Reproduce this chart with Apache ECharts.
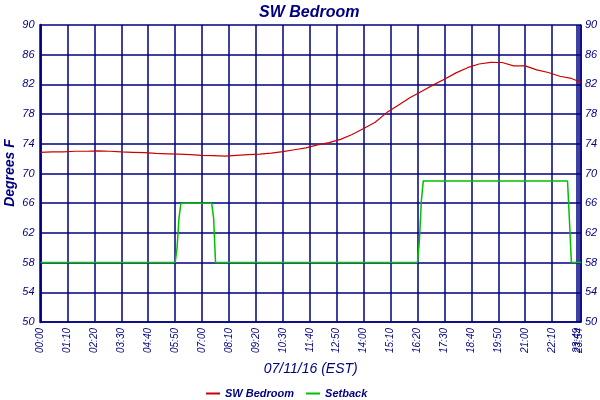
<!DOCTYPE html>
<html>
<head>
<meta charset="utf-8">
<script src="https://cdn.jsdelivr.net/npm/echarts@6/dist/echarts.min.js"></script>
<style>html,body{margin:0;padding:0;background:#fff}#c{width:600px;height:400px}</style>
</head>
<body>
<div id="c"></div>
<script>
// x categories: 5-minute samples 00:00..23:10, then the last logged samples
const regularEndMinutes = 1390, stepMinutes = 5;
const tailTimes = ['23:49', '23:54', '23:59'];
const timeCategories = [];
for (let m = 0; m <= regularEndMinutes; m += stepMinutes) {
  const h = Math.floor(m / 60), mm = m % 60;
  timeCategories.push((h < 10 ? '0' : '') + h + ':' + (mm < 10 ? '0' : '') + mm);
}
tailTimes.forEach(t => timeCategories.push(t));

// SW Bedroom temperature (read every 30 min)
const bedroomTimes = ['00:00','00:30','01:00','01:30','02:00','02:30','03:00','03:30','04:00','04:30',
  '05:00','05:30','06:00','06:30','07:00','07:30','08:00','08:30','09:00','09:30',
  '10:00','10:30','11:00','11:30','12:00','12:30','13:00','13:30','14:00','14:30',
  '15:00','15:30','16:00','16:30','17:00','17:30','18:00','18:30','19:00','19:30',
  '20:00','20:30','21:00','21:30','22:00','22:30','23:00','23:10','23:59'];
const bedroomValues = [72.85,72.9,72.9,73.0,73.0,73.05,73.0,72.9,72.85,72.8,
  72.7,72.65,72.6,72.55,72.45,72.4,72.35,72.45,72.55,72.6,
  72.75,72.95,73.2,73.45,73.85,74.15,74.6,75.25,76.05,76.9,
  78.2,79.2,80.2,81.05,81.9,82.7,83.55,84.25,84.75,84.97,
  84.95,84.5,84.5,83.95,83.6,83.1,82.8,82.6,82.3];

// Setback breakpoints
const setbackTimes = ['00:00','05:50','05:55','06:00','06:05','07:25','07:30','07:35',
  '16:20','16:25','16:30','16:35','22:50','22:55','23:00','23:59'];
const setbackValues = [58,58,60,64,66,66,64,58,
  58,61,66.3,69,69,63.6,58,58];

const yTicks = {min: 50, max: 90, interval: 4};

const navy = '#000080';
const fontFam = '"Liberation Sans", Arial, sans-serif';
const zip = (a, b) => a.map((t, i) => [t, b[i]]);
const showIdx = idx => (idx % 14 === 0 && idx <= 266) || idx >= timeCategories.length - 3;

const chart = echarts.init(document.getElementById('c'), null, {renderer: 'canvas'});
chart.setOption({
  backgroundColor: '#fff',
  animation: false,
  title: {
    text: 'SW Bedroom', left: 254, top: 0,
    textStyle: {color: navy, fontSize: 16, fontStyle: 'italic', fontWeight: 'bold', fontFamily: fontFam}
  },
  graphic: [{
    type: 'text', x: 10, y: 173, rotation: Math.PI / 2,
    style: {text: 'Degrees F', fill: navy, fontSize: 14, fontStyle: 'italic', fontWeight: 'bold',
      fontFamily: fontFam, align: 'center', verticalAlign: 'middle'}
  }],
  legend: {
    top: 383, left: 201, icon: 'rect', itemWidth: 14, itemHeight: 2, itemGap: 12,
    textStyle: {color: navy, fontSize: 11, fontStyle: 'italic', fontWeight: 'bold', fontFamily: fontFam},
    data: ['SW Bedroom', 'Setback']
  },
  grid: {left: 40.5, right: 19, top: 25, bottom: 78, containLabel: false, outerBoundsMode: 'none'},
  xAxis: {
    type: 'category', data: timeCategories, boundaryGap: false,
    name: '07/11/16 (EST)', nameLocation: 'middle', nameGap: 40,
    nameTextStyle: {color: navy, fontSize: 14, fontStyle: 'italic', fontFamily: fontFam},
    axisLine: {lineStyle: {color: navy, width: 1.5}},
    axisTick: {show: false},
    axisLabel: {interval: (i) => showIdx(i), rotate: 90, color: navy, fontSize: 10, fontStyle: 'italic', fontFamily: fontFam, margin: 6},
    splitLine: {show: true, interval: (i) => showIdx(i), lineStyle: {color: navy, width: 1.5}}
  },
  yAxis: [{
    type: 'value', min: yTicks.min, max: yTicks.max, interval: yTicks.interval, position: 'left',
    axisLine: {show: true, lineStyle: {color: navy, width: 2.5}},
    axisTick: {show: false},
    axisLabel: {color: navy, fontSize: 11, fontStyle: 'italic', fontFamily: fontFam, margin: 6},
    splitLine: {show: true, lineStyle: {color: navy, width: 1.5}}
  }, {
    type: 'value', min: yTicks.min, max: yTicks.max, interval: yTicks.interval, position: 'right',
    axisLine: {show: true, lineStyle: {color: navy, width: 1.5}},
    axisTick: {show: false},
    axisLabel: {color: navy, fontSize: 11, fontStyle: 'italic', fontFamily: fontFam, margin: 4},
    splitLine: {show: false}
  }],
  series: [{
    name: 'SW Bedroom', type: 'line', showSymbol: false, symbol: 'none',
    data: zip(bedroomTimes, bedroomValues),
    lineStyle: {color: '#CC0000', width: 1.2}, itemStyle: {color: '#CC0000'}
  }, {
    name: 'Setback', type: 'line', showSymbol: false, symbol: 'none',
    data: zip(setbackTimes, setbackValues),
    lineStyle: {color: '#00C000', width: 1.5}, itemStyle: {color: '#00C000'}
  }]
});
</script>
</body>
</html>
